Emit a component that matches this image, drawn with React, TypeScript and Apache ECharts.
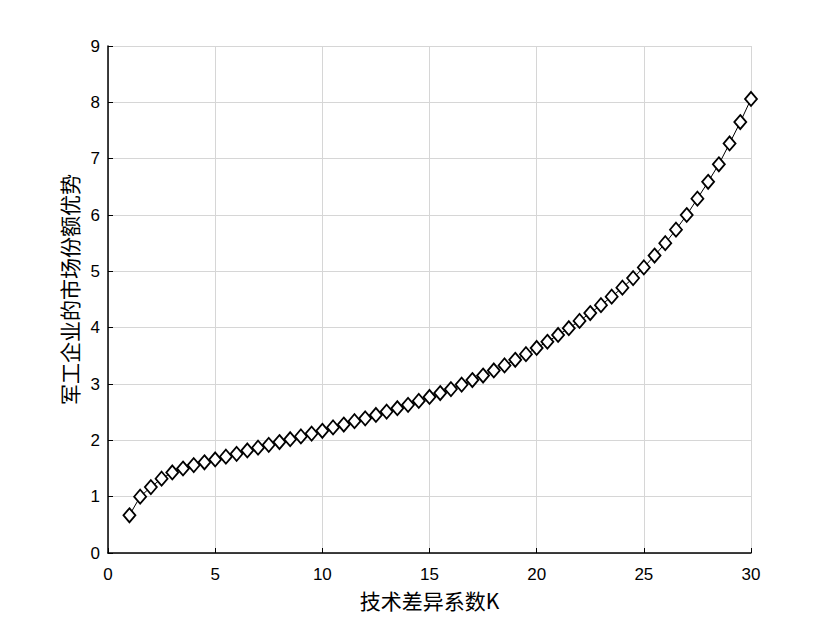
import React, { useEffect, useRef } from "react";
import * as echarts from "echarts";

const kValues: number[] = [
  1, 1.5, 2, 2.5, 3, 3.5, 4, 4.5, 5, 5.5, 6, 6.5, 7, 7.5, 8, 8.5, 9, 9.5, 10, 10.5,
  11, 11.5, 12, 12.5, 13, 13.5, 14, 14.5, 15, 15.5, 16, 16.5, 17, 17.5, 18, 18.5, 19, 19.5, 20, 20.5,
  21, 21.5, 22, 22.5, 23, 23.5, 24, 24.5, 25, 25.5, 26, 26.5, 27, 27.5, 28, 28.5, 29, 29.5, 30,
];

const advantage: number[] = [
  0.67, 1.0, 1.17, 1.32, 1.43, 1.5, 1.56, 1.61, 1.66, 1.71, 1.76, 1.82, 1.87, 1.92, 1.97, 2.02, 2.07, 2.12, 2.17, 2.23,
  2.28, 2.34, 2.39, 2.45, 2.51, 2.57, 2.63, 2.7, 2.77, 2.84, 2.91, 2.99, 3.07, 3.15, 3.24, 3.33, 3.43, 3.53, 3.64, 3.75,
  3.87, 3.99, 4.12, 4.26, 4.4, 4.55, 4.71, 4.88, 5.07, 5.28, 5.5, 5.74, 6.0, 6.29, 6.59, 6.9, 7.27, 7.65, 8.06,
];

const xAxisName = "技术差异系数K";
const yAxisName = "军工企业的市场份额优势";

const FONT = "'Liberation Sans', Arial, 'Noto Sans CJK SC', sans-serif";
const CJK = "'Noto Sans CJK SC', 'Liberation Sans', sans-serif";

export default function App() {
  const ref = useRef<HTMLDivElement>(null);
  useEffect(() => {
    if (!ref.current) return;
    const chart = echarts.init(ref.current, undefined, { renderer: "svg" });
    const data = kValues.map((k, i) => [k, advantage[i]]);
    chart.setOption({
      animation: false,
      backgroundColor: "#ffffff",
      grid: { left: 108, right: 76, top: 46, bottom: 66, containLabel: false },
      xAxis: {
        type: "value",
        min: 0,
        max: 30,
        interval: 5,
        name: xAxisName,
        nameLocation: "middle",
        nameGap: 36,
        nameTextStyle: { fontFamily: CJK, fontSize: 21, color: "#000" },
        axisLine: { show: true, onZero: false, lineStyle: { color: "#000", width: 1.5 } },
        axisTick: { show: true, inside: true, length: 5, lineStyle: { color: "#000", width: 1 } },
        axisLabel: { fontFamily: FONT, fontSize: 17, color: "#000", margin: 13 },
        splitLine: { show: true, lineStyle: { color: "#d6d6d6", width: 1 } },
      },
      yAxis: {
        type: "value",
        min: 0,
        max: 9,
        interval: 1,
        name: yAxisName,
        nameLocation: "middle",
        nameGap: 29,
        nameRotate: 90,
        nameTextStyle: { fontFamily: CJK, fontSize: 21, color: "#000", padding: [0, 0, 0, 20] },
        axisLine: { show: true, onZero: false, lineStyle: { color: "#000", width: 1.5 } },
        axisTick: { show: true, inside: true, length: 5, lineStyle: { color: "#000", width: 1 } },
        axisLabel: { fontFamily: FONT, fontSize: 17, color: "#000", margin: 8 },
        splitLine: { show: true, lineStyle: { color: "#d6d6d6", width: 1 } },
      },
      series: [
        {
          type: "line",
          data,
          symbol: "diamond",
          symbolSize: [12, 14],
          showAllSymbol: true,
          lineStyle: { color: "#000", width: 1 },
          itemStyle: { color: "#ffffff", borderColor: "#000", borderWidth: 1.8 },
          emphasis: { disabled: true },
          z: 3,
        },
      ],
    });
    return () => chart.dispose();
  }, []);
  return (
    <div
      ref={ref}
      style={{ position: "absolute", left: 0, top: 0, width: 827, height: 619 }}
    />
  );
}
